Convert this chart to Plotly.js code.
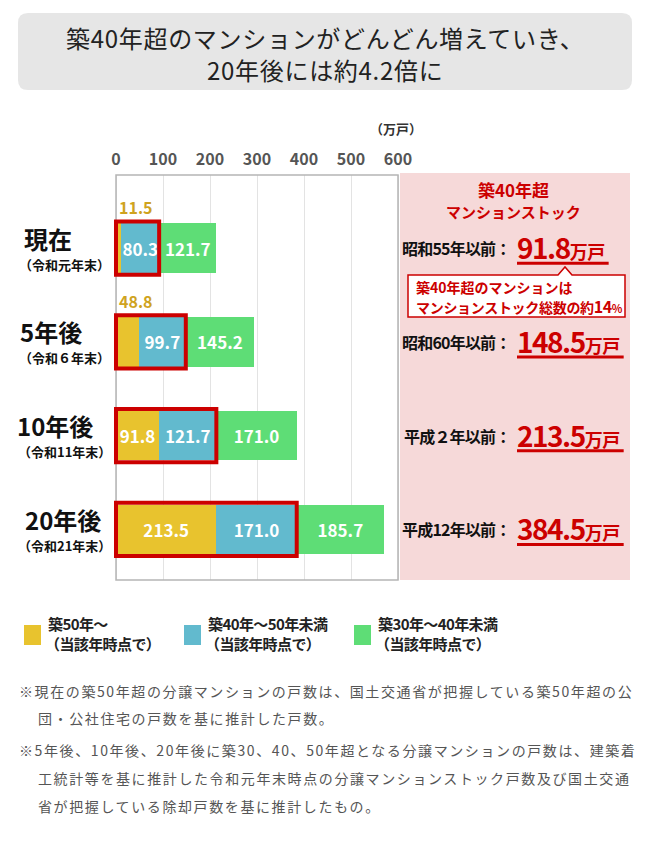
<!DOCTYPE html>
<html><head><meta charset="utf-8">
<script src="https://cdn.plot.ly/plotly-3.0.1.min.js"></script>
<style>html,body{margin:0;padding:0;background:#fff}</style>
</head><body><div id="chart" style="width:650px;height:850px"></div>
<script>
// ---- data ----
const categories = ["現在", "5年後", "10年後", "20年後"];
const subLabels = ["（令和元年末）", "（令和６年末）", "（令和11年末）", "（令和21年末）"];
const over50 = [11.5, 48.8, 91.8, 213.5];
const from40to50 = [80.3, 99.7, 121.7, 171.0];
const from30to40 = [121.7, 145.2, 171.0, 185.7];
const seriesNames = ["築50年～", "築40年～50年未満", "築30年～40年未満"];
const seriesNote = "（当該年時点で）";
const stockLabels = ["昭和55年以前：", "昭和60年以前：", "平成２年以前：", "平成12年以前："];
const xTicks = [0, 100, 200, 300, 400, 500, 600];
const titleLines = ["築40年超のマンションがどんどん増えていき、", "20年後には約4.2倍に"];
const notes = [
  ["※現在の築50年超の分譲マンションの戸数は、国土交通省が把握している築50年超の公", "団・公社住宅の戸数を基に推計した戸数。"],
  ["※5年後、10年後、20年後に築30、40、50年超となる分譲マンションの戸数は、建築着", "工統計等を基に推計した令和元年末時点の分譲マンションストック戸数及び国土交通", "省が把握している除却戸数を基に推計したもの。"]
];

// ---- style ----
const W = 650, H = 850;
const px = x => x / W, py = y => 1 - y / H;
const FONT = '"Noto Sans CJK JP", "Noto Sans", sans-serif';
const C = {yellow: '#E8C32E', blue: '#62BACE', green: '#5EDD76', red: '#CC0000', gold: '#CFA31E', pink: '#F6D9D9'};
const colors = [C.yellow, C.blue, C.green];

const ctx = document.createElement('canvas').getContext('2d');
function tw(t, size, weight, ls) { ctx.font = weight + ' ' + size + 'px "Noto Sans CJK JP"'; return ctx.measureText(t).width + (ls || 0) * t.length; }

const fmt = v => v.toFixed(1);
const series = [over50, from40to50, from30to40];
const traces = series.map((vals, k) => ({
  type: 'bar', orientation: 'h', y: categories, x: vals, name: seriesNames[k],
  marker: {color: colors[k], line: {width: 0}},
  width: 0.53,
  text: vals.map(v => (k === 0 && v < 60) ? '' : fmt(v)),
  textposition: 'inside', insidetextanchor: 'middle', constraintext: 'none', textangle: 0,
  textfont: {family: FONT, size: 17, color: '#fff', weight: 'bold'},
  hoverinfo: 'skip', showlegend: false
}));

const shapes = [];
const annotations = [];

// title box
(function(){
  const x0 = 18, x1 = 632, y0 = 13, y1 = 90, r = 10;
  const P = (x, y) => px(x) + ',' + py(y);
  const path = 'M' + P(x0 + r, y0) + ' L' + P(x1 - r, y0) + ' Q' + P(x1, y0) + ' ' + P(x1, y0 + r) +
    ' L' + P(x1, y1 - r) + ' Q' + P(x1, y1) + ' ' + P(x1 - r, y1) + ' L' + P(x0 + r, y1) +
    ' Q' + P(x0, y1) + ' ' + P(x0, y1 - r) + ' L' + P(x0, y0 + r) + ' Q' + P(x0, y0) + ' ' + P(x0 + r, y0) + ' Z';
  shapes.push({type: 'path', xref: 'paper', yref: 'paper', path: path, fillcolor: '#E6E6E6', line: {width: 0}, layer: 'below'});
})();
titleLines.forEach((t, j) => {
  annotations.push({xref: 'paper', yref: 'paper', x: 0.5, y: py(j === 0 ? 37 : 69), text: '<span style="letter-spacing:0.7px">' + t + '</span>', showarrow: false, font: {family: FONT, size: 24, color: '#222'}, xanchor: 'center', yanchor: 'middle'});
});

// pink panel
shapes.push({type: 'rect', xref: 'paper', yref: 'paper', x0: px(400), x1: px(630), y0: py(580), y1: py(173), fillcolor: C.pink, line: {width: 0}, layer: 'below'});

// plot frame
shapes.push({type: 'rect', xref: 'x', yref: 'paper', x0: 0, x1: 600, y0: py(580), y1: py(175), line: {color: '#B5B5B5', width: 1.5}, layer: 'above'});

// red boxes
categories.forEach((c, i) => {
  shapes.push({type: 'rect', xref: 'x', yref: 'y', x0: 0, x1: over50[i] + from40to50[i], y0: i - 0.285, y1: i + 0.285, line: {color: C.red, width: 4}, layer: 'above'});
});

// small yellow values above bars
over50.forEach((v, i) => {
  if (v < 60) annotations.push({xref: 'x', yref: 'y', x: 0, y: i, xanchor: 'left', yanchor: 'middle', xshift: 1, yshift: 41, text: '<b>' + fmt(v) + '</b>', showarrow: false, font: {family: FONT, size: 16, color: C.gold}});
});

// category labels
const mainX = [48, 51, 55, 63];
categories.forEach((c, i) => {
  annotations.push({xref: 'paper', yref: 'y', x: px(mainX[i]), y: i, yshift: 10, xanchor: 'center', yanchor: 'middle', text: '<b>' + c + '</b>', showarrow: false, font: {family: FONT, size: 24, color: '#111'}});
  annotations.push({xref: 'paper', yref: 'y', x: px(64), y: i, yshift: -16, xanchor: 'center', yanchor: 'middle', text: '<b>' + subLabels[i] + '</b>', showarrow: false, font: {family: FONT, size: 13, color: '#111'}});
});

// unit
annotations.push({xref: 'paper', yref: 'paper', x: px(396), y: py(128), xanchor: 'center', yanchor: 'middle', text: '<b>（万戸）</b>', showarrow: false, font: {family: FONT, size: 13, color: '#333'}});

// panel header
annotations.push({xref: 'paper', yref: 'paper', x: px(513), y: py(190), xanchor: 'center', yanchor: 'middle', text: '<b>築40年超</b>', showarrow: false, font: {family: FONT, size: 17, color: C.red}});
annotations.push({xref: 'paper', yref: 'paper', x: px(513), y: py(211), xanchor: 'center', yanchor: 'middle', text: '<b>マンションストック</b>', showarrow: false, font: {family: FONT, size: 15, color: C.red}});

// stock rows
categories.forEach((c, i) => {
  const total = fmt(over50[i] + from40to50[i]);
  annotations.push({xref: 'paper', yref: 'y', x: px(512), y: i, xanchor: 'right', yanchor: 'middle', text: '<b><span style="letter-spacing:-0.8px">' + stockLabels[i] + '</span></b>', showarrow: false, font: {family: FONT, size: 16, color: '#111'}});
  annotations.push({xref: 'paper', yref: 'y', x: px(515), y: i, xanchor: 'left', yanchor: 'middle', yshift: 1, text: '<b><span style="letter-spacing:-1.5px">' + total + '</span><span style="font-size:18px;letter-spacing:-0.5px">万戸</span></b>', showarrow: false, font: {family: FONT, size: 28, color: C.red}});
  const wid = tw(total, 28, 'bold', -1.5) + tw('万戸', 18, 'bold', -0.5);
  shapes.push({type: 'line', xref: 'paper', yref: 'y', ysizemode: 'pixel', yanchor: i, x0: px(517), x1: px(521 + wid), y0: -15, y1: -15, line: {color: C.red, width: 3}});
});

// callout
(function(){
  const P = (x, y) => px(x) + ',' + py(y);
  const path = 'M' + P(408, 275) + ' L' + P(558, 275) + ' L' + P(565, 267) + ' L' + P(572, 275) + ' L' + P(625, 275) +
    ' L' + P(625, 317) + ' L' + P(408, 317) + ' Z';
  shapes.push({type: 'path', xref: 'paper', yref: 'paper', path: path, fillcolor: '#fff', line: {color: C.red, width: 1.5}, layer: 'above'});
})();
annotations.push({xref: 'paper', yref: 'paper', x: px(414), y: py(287), xanchor: 'left', yanchor: 'middle', text: '<b>築40年超のマンションは</b>', showarrow: false, font: {family: FONT, size: 14, color: C.red}});
annotations.push({xref: 'paper', yref: 'paper', x: px(414), y: py(306), xanchor: 'left', yanchor: 'middle', text: '<b><span style="letter-spacing:-0.3px">マンションストック総数の約</span><span style="font-size:16px;letter-spacing:-0.5px">14</span><span style="font-size:11px">%</span></b>', showarrow: false, font: {family: FONT, size: 14, color: C.red}});

// legend
const legX = [24, 184, 354];
seriesNames.forEach((n, k) => {
  shapes.push({type: 'rect', xref: 'paper', yref: 'paper', x0: px(legX[k]), x1: px(legX[k] + 17), y0: py(645), y1: py(625), fillcolor: colors[k], line: {width: 0}});
  annotations.push({xref: 'paper', yref: 'paper', x: px(legX[k] + 22), y: py(623), xanchor: 'left', yanchor: 'middle', text: '<b><span style="letter-spacing:-0.6px">' + n + '</span></b>', showarrow: false, font: {family: FONT, size: 15, color: '#222'}});
  annotations.push({xref: 'paper', yref: 'paper', x: px(legX[k] + 19), y: py(643), xanchor: 'left', yanchor: 'middle', text: '<b><span style="letter-spacing:-0.6px">' + seriesNote + '</span></b>', showarrow: false, font: {family: FONT, size: 15, color: '#222'}});
});

// notes
const noteY = [[691, 718], [750, 778, 806]];
notes.forEach((lines, g) => {
  lines.forEach((t, j) => {
    annotations.push({xref: 'paper', yref: 'paper', x: px(j === 0 ? 17 : 36), y: py(noteY[g][j]), xanchor: 'left', yanchor: 'middle', text: '<span style="letter-spacing:1.6px">' + t + '</span>', showarrow: false, font: {family: FONT, size: 14, color: '#555'}});
  });
});

const layout = {
  width: W, height: H, margin: {l: 0, r: 0, t: 0, b: 0},
  paper_bgcolor: '#fff', plot_bgcolor: 'rgba(0,0,0,0)',
  barmode: 'stack', bargap: 0,
  showlegend: false,
  xaxis: {domain: [px(112.24), px(399.88)], range: [-8, 604], side: 'top', tickvals: xTicks, ticktext: xTicks.map(String),
    showgrid: true, gridcolor: '#E3E3E3', gridwidth: 1, zeroline: false, showline: false, ticks: '',
    tickfont: {family: FONT, size: 16, color: '#555', weight: 'bold'}, ticklabelstandoff: 6, fixedrange: true},
  yaxis: {domain: [py(580), py(175)], type: 'category', categoryarray: categories, range: [3.54, -0.78], showticklabels: false,
    showgrid: false, zeroline: false, showline: false, ticks: '', fixedrange: true},
  shapes: shapes, annotations: annotations
};
Plotly.newPlot('chart', traces, layout, {staticPlot: true, displayModeBar: false});
</script></body></html>
